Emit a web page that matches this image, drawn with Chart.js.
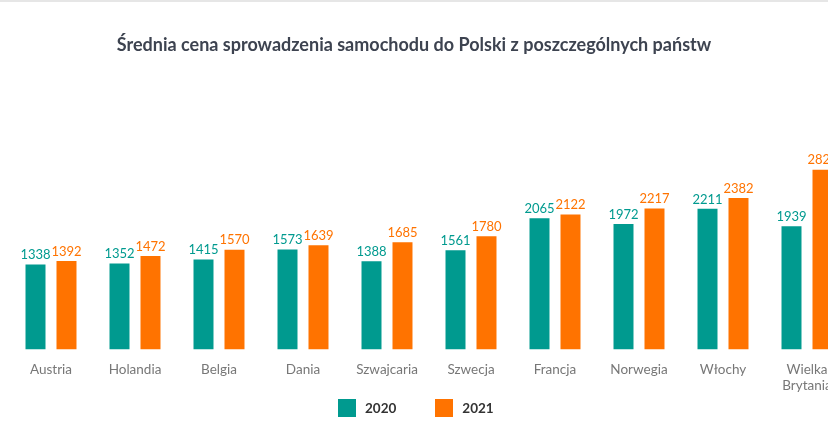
<!DOCTYPE html>
<html><head><meta charset="utf-8">
<script src="https://cdn.jsdelivr.net/npm/chart.js@4"></script>
<style>
html,body{margin:0;padding:0;background:#fff;width:828px;height:435px;overflow:hidden;font-family:Lato,"Open Sans",sans-serif;}
#topline{position:absolute;left:0;top:0;width:828px;height:2px;background:#e6e6e6;}
#title{position:absolute;left:0;top:33px;width:828px;text-align:center;font-weight:700;font-size:18px;color:#3d4350;}
#wrap{position:absolute;left:0;top:0;width:860px;height:435px;}
#legend{position:absolute;top:399px;left:338px;display:flex;align-items:center;font-weight:700;font-size:13.5px;color:#333;}
.box{width:18px;height:18px;display:inline-block;margin-right:9px;}
.item{display:flex;align-items:center;margin-right:39px;}
</style></head>
<body>
<div id="topline"></div>
<div id="wrap"><canvas id="c" width="860" height="435"></canvas></div>
<div id="title">Średnia cena sprowadzenia samochodu do Polski z poszczególnych państw</div>
<div id="legend"><div class="item"><span class="box" style="background:#009A8F"></span>2020</div><div class="item"><span class="box" style="background:#FF7300"></span>2021</div></div>
<script>
const categories = ["Austria","Holandia","Belgia","Dania","Szwajcaria","Szwecja","Francja","Norwegia","Włochy",["Wielka","Brytania"]];
const values2020 = [1338,1352,1415,1573,1388,1561,2065,1972,2211,1939];
const values2021 = [1392,1472,1570,1639,1685,1780,2122,2217,2382,2826];
const seriesNames = ["2020","2021"];
const colors = ["#009A8F","#FF7300"];

const valueLabels = {
  id:'valueLabels',
  afterDatasetsDraw(chart){
    const ctx = chart.ctx;
    ctx.save();
    ctx.font = '13px Lato, "Open Sans", sans-serif';
    ctx.textAlign = 'center';
    ctx.textBaseline = 'bottom';
    chart.data.datasets.forEach((ds,i)=>{
      const meta = chart.getDatasetMeta(i);
      ctx.fillStyle = ds.backgroundColor;
      meta.data.forEach((bar,j)=>{
        ctx.fillText(String(ds.data[j]), bar.x, bar.y - 3);
      });
    });
    ctx.restore();
  }
};

new Chart(document.getElementById('c'), {
  type:'bar',
  data:{
    labels: categories,
    datasets:[
      {label:seriesNames[0], data:values2020, backgroundColor:colors[0], categoryPercentage:0.738, barPercentage:0.645},
      {label:seriesNames[1], data:values2021, backgroundColor:colors[1], categoryPercentage:0.738, barPercentage:0.645}
    ]
  },
  options:{
    responsive:false,
    animation:false,
    layout:{padding:{left:9,right:11,top:95,bottom:29}},
    plugins:{legend:{display:false},tooltip:{enabled:false},title:{display:false}},
    scales:{
      y:{display:false,min:0,max:4000},
      x:{
        grid:{display:false,drawTicks:false},
        border:{display:false},
        ticks:{color:'#777',font:{family:'Lato, "Open Sans", sans-serif',size:13.5},padding:12,maxRotation:0,autoSkip:false}
      }
    }
  },
  plugins:[valueLabels]
});
</script>
</body></html>
